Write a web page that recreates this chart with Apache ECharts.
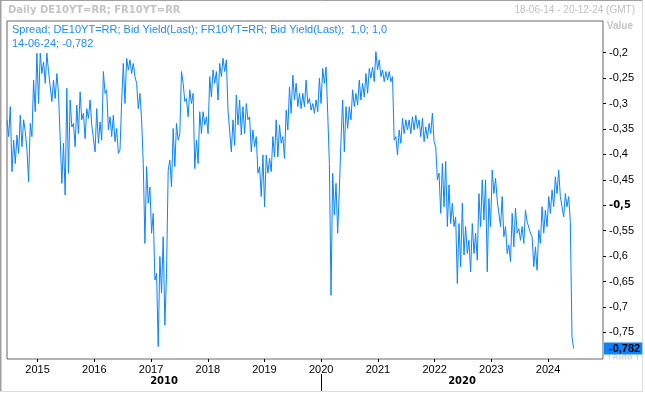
<!DOCTYPE html>
<html><head><meta charset="utf-8">
<script src="https://cdn.jsdelivr.net/npm/echarts@6/dist/echarts.min.js"></script>
<style>html,body{margin:0;padding:0;background:#fff}#c{width:645px;height:394px}</style>
</head><body><div id="c"></div>
<script>
// Spread DE10Y - FR10Y (hi/lo pairs per ~11 days)
const spreadA = [ // Jun 2014 - Mar 2018
-0.332,-0.365,-0.306,-0.434,-0.372,-0.418,-0.362,-0.398,-0.323,-0.385,-0.332,-0.355,-0.391,-0.454,-0.339,-0.365,
-0.254,-0.316,-0.201,-0.300,-0.201,-0.241,-0.218,-0.260,-0.201,-0.237,-0.267,-0.296,-0.254,-0.290,-0.241,-0.280,
-0.280,-0.457,-0.378,-0.480,-0.270,-0.437,-0.293,-0.346,-0.339,-0.385,-0.303,-0.359,-0.277,-0.332,-0.319,-0.369,
-0.310,-0.329,-0.293,-0.342,-0.339,-0.395,-0.310,-0.378,-0.336,-0.372,-0.237,-0.280,-0.273,-0.352,-0.326,-0.365,
-0.323,-0.375,-0.349,-0.398,-0.391,-0.296,-0.221,-0.300,-0.211,-0.234,-0.214,-0.241,-0.221,-0.247,-0.260,-0.310,
-0.280,-0.332,-0.418,-0.575,-0.424,-0.496,-0.464,-0.555,-0.516,-0.647,-0.634,-0.778,-0.601,-0.673,-0.562,-0.736,
-0.634,-0.431,-0.411,-0.464,-0.349,-0.424,-0.339,-0.372,-0.359,-0.237,-0.260,-0.296,-0.290,-0.326,-0.273,-0.300,
-0.280,-0.428,-0.372,-0.418,-0.316,-0.359,-0.316,-0.342,-0.326,-0.359,-0.247,-0.287,-0.234,-0.260,-0.237,-0.293
];
const spreadB = [ // Mar 2018 - Sep 2021
-0.221,-0.247,-0.211,-0.237,-0.214,-0.313,-0.313,-0.395,-0.332,-0.382,-0.283,-0.342,-0.293,-0.362,-0.306,-0.359,
-0.300,-0.332,-0.326,-0.395,-0.352,-0.385,-0.365,-0.437,-0.424,-0.483,-0.401,-0.503,-0.401,-0.437,-0.408,-0.434,
-0.365,-0.405,-0.332,-0.405,-0.342,-0.378,-0.365,-0.408,-0.313,-0.352,-0.267,-0.319,-0.244,-0.293,-0.260,-0.306,
-0.280,-0.310,-0.280,-0.306,-0.254,-0.300,-0.290,-0.313,-0.300,-0.319,-0.293,-0.316,-0.250,-0.300,-0.231,-0.260,
-0.228,-0.319,-0.418,-0.677,-0.437,-0.519,-0.457,-0.555,-0.470,-0.372,-0.293,-0.395,-0.306,-0.349,-0.306,-0.332,
-0.273,-0.306,-0.280,-0.303,-0.254,-0.293,-0.260,-0.287,-0.241,-0.280,-0.231,-0.250,-0.228,-0.257,-0.198,-0.234,
-0.214,-0.247,-0.234,-0.257,-0.237,-0.254,-0.237,-0.257,-0.247,-0.372,-0.365,-0.401,-0.352,-0.378,-0.329,-0.359,
-0.332,-0.352,-0.332,-0.359,-0.326,-0.352,-0.323,-0.349
];
const spreadC = [ // Sep 2021 - Jun 2024
-0.332,-0.365,-0.329,-0.375,-0.346,-0.369,-0.339,-0.359,-0.319,-0.375,-0.385,-0.450,-0.437,-0.516,-0.418,-0.503,
-0.414,-0.542,-0.460,-0.536,-0.496,-0.542,-0.523,-0.654,-0.536,-0.621,-0.496,-0.598,-0.542,-0.595,-0.569,-0.631,
-0.536,-0.595,-0.555,-0.608,-0.477,-0.542,-0.450,-0.529,-0.450,-0.631,-0.487,-0.542,-0.431,-0.477,-0.447,-0.490,
-0.490,-0.542,-0.483,-0.562,-0.542,-0.595,-0.578,-0.611,-0.516,-0.582,-0.506,-0.555,-0.546,-0.569,-0.542,-0.575,
-0.510,-0.532,-0.529,-0.555,-0.562,-0.621,-0.582,-0.628,-0.549,-0.575,-0.503,-0.555,-0.510,-0.542,-0.483,-0.516,
-0.470,-0.503,-0.444,-0.477,-0.431,-0.483,-0.483,-0.523,-0.477,-0.503,-0.483,-0.532
];
const lastPoints = [-0.759, -0.782];

const yTicks = [-0.2,-0.25,-0.3,-0.35,-0.4,-0.45,-0.5,-0.55,-0.6,-0.65,-0.7,-0.75];
const yearTicks = [2015,2016,2017,2018,2019,2020,2021,2022,2023,2024];
const decadeLabels = ['2010','2020'];
const firstDate = Date.UTC(2014,5,18);
const lastDate  = Date.UTC(2024,5,14);
const axisEnd   = Date.UTC(2024,11,20);
const titleText = 'Daily DE10YT=RR; FR10YT=RR';
const rangeText = '18-06-14 - 20-12-24 (GMT)';
const seriesText = 'Spread; DE10YT=RR; Bid Yield(Last); FR10YT=RR; Bid Yield(Last);  1,0; 1,0';

const values = spreadA.concat(spreadB, spreadC, lastPoints);
const step = (lastDate - firstDate) / (values.length - 1);
const data = values.map((v, i) => [firstDate + i * step, v]);
const lastVal = values[values.length - 1];

const fmt = v => String(Math.round(v * 1000) / 1000).replace('.', ',');
const pad = n => (n < 10 ? '0' : '') + n;
const dLast = new Date(lastDate);
const lastText = pad(dLast.getUTCDate()) + '-' + pad(dLast.getUTCMonth() + 1) + '-' + pad(dLast.getUTCFullYear() % 100) + '; ' + fmt(lastVal);

const yearTs = yearTicks.map(y => Date.UTC(y, 0, 1));
const dec2020 = Date.UTC(2020, 0, 1);
const decadePos = [(firstDate + dec2020) / 2, (dec2020 + axisEnd) / 2];

const blue = '#0a84ff';
const chart = echarts.init(document.getElementById('c'), null, {renderer: 'canvas'});
chart.setOption({
  animation: false,
  backgroundColor: '#fff',
  title: [
    {text: titleText, left: 8, top: 5, padding: 0,
     textStyle: {fontFamily: 'DejaVu Sans', fontWeight: 'bold', fontSize: 10, color: '#c4c4c4'}},
    {text: rangeText, right: 10, top: 5, padding: 0,
     textStyle: {fontFamily: 'Liberation Sans', fontWeight: 'normal', fontSize: 10, color: '#c0c0c0'}},
    {text: 'Value', right: 12, top: 21, padding: 0,
     textStyle: {fontFamily: 'Liberation Sans', fontWeight: 'bold', fontSize: 10, color: '#c4c4c4'}},
    {text: seriesText, left: 12, top: 24, padding: 0,
     textStyle: {fontFamily: 'Liberation Sans', fontWeight: 'normal', fontSize: 11, color: '#1a8cff'}},
    {text: lastText, left: 12, top: 38, padding: 0,
     textStyle: {fontFamily: 'Liberation Sans', fontWeight: 'normal', fontSize: 11, color: '#1a8cff'}}
  ],
  grid: {left: 7, right: 42, top: 21, bottom: 35, show: true, borderColor: '#666', borderWidth: 1, backgroundColor: '#fff'},
  xAxis: [
    {type: 'value', min: firstDate, max: axisEnd, position: 'bottom',
     splitLine: {show: false}, axisLine: {show: false},
     axisTick: {show: true, customValues: yearTs, length: 3, lineStyle: {color: '#000'}},
     axisLabel: {customValues: yearTs, margin: 5, fontFamily: 'Liberation Sans', fontSize: 11, color: '#000',
                 formatter: v => String(new Date(v).getUTCFullYear())}},
    {type: 'value', min: firstDate, max: axisEnd, position: 'bottom', offset: 15,
     splitLine: {show: false}, axisLine: {show: false},
     axisTick: {show: true, customValues: [dec2020], length: 17, lineStyle: {color: '#000'}},
     axisLabel: {customValues: decadePos, margin: 2, fontFamily: 'DejaVu Sans', fontWeight: 'bold', fontSize: 10, color: '#000',
                 formatter: v => (v < dec2020 ? decadeLabels[0] : decadeLabels[1])}}
  ],
  yAxis: {
    type: 'value', position: 'right', min: -0.8025, max: -0.1376,
    splitLine: {show: false}, axisLine: {show: false},
    axisTick: {show: true, customValues: yTicks, length: 3, lineStyle: {color: '#000'}},
    axisLabel: {customValues: yTicks, margin: 6, fontFamily: 'Liberation Sans', fontSize: 11, color: '#000',
      formatter: v => { const s = fmt(v); return Math.abs(v + 0.5) < 1e-9 ? '{b|' + s + '}' : s; },
      rich: {b: {fontFamily: 'DejaVu Sans', fontWeight: 'bold', fontSize: 10, color: '#000'}}},
    axisPointer: {show: true, value: lastVal, status: 'show', triggerTooltip: false, type: 'line',
      lineStyle: {opacity: 0, width: 0},
      label: {show: true, margin: 1, backgroundColor: blue, color: '#000', fontFamily: 'Liberation Sans',
              fontWeight: 'bold', fontSize: 11, padding: [1, 2, 0, 5], borderRadius: 0,
              formatter: p => fmt(p.value)}}
  },
  axisPointer: {triggerOn: 'none'},
  series: [{
    type: 'line', xAxisIndex: 0, data: data, showSymbol: false, symbol: 'none',
    lineStyle: {width: 1, color: blue}, itemStyle: {color: blue}, z: 3
  }],
  graphic: [
    {type: 'rect', z: 0, silent: true, shape: {x: 609.5, y: 352.5, width: 28, height: 10},
     style: {fill: '#fff', stroke: '#d0d0d0', lineWidth: 1}},
    {type: 'text', z: 0, silent: true, x: 612, y: 353,
     style: {text: 'Auto', fill: '#d0d0d0', font: 'bold 9px "Liberation Sans"'}},
    {type: 'rect', z: 1, silent: true, shape: {x: 604, y: 359.5, width: 38, height: 8}, style: {fill: '#fff'}},
    {type: 'line', silent: true, shape: {x1: 0.5, y1: 0, x2: 0.5, y2: 392}, style: {stroke: '#a0a0a0', lineWidth: 2}},
    {type: 'line', silent: true, shape: {x1: 0, y1: 0.5, x2: 643, y2: 0.5}, style: {stroke: '#a0a0a0', lineWidth: 1}},
    {type: 'line', silent: true, shape: {x1: 642.5, y1: 0, x2: 642.5, y2: 392}, style: {stroke: '#dcdcdc', lineWidth: 1}},
    {type: 'line', silent: true, shape: {x1: 0, y1: 391.5, x2: 643, y2: 391.5}, style: {stroke: '#dcdcdc', lineWidth: 1}}
  ]
});
</script></body></html>
